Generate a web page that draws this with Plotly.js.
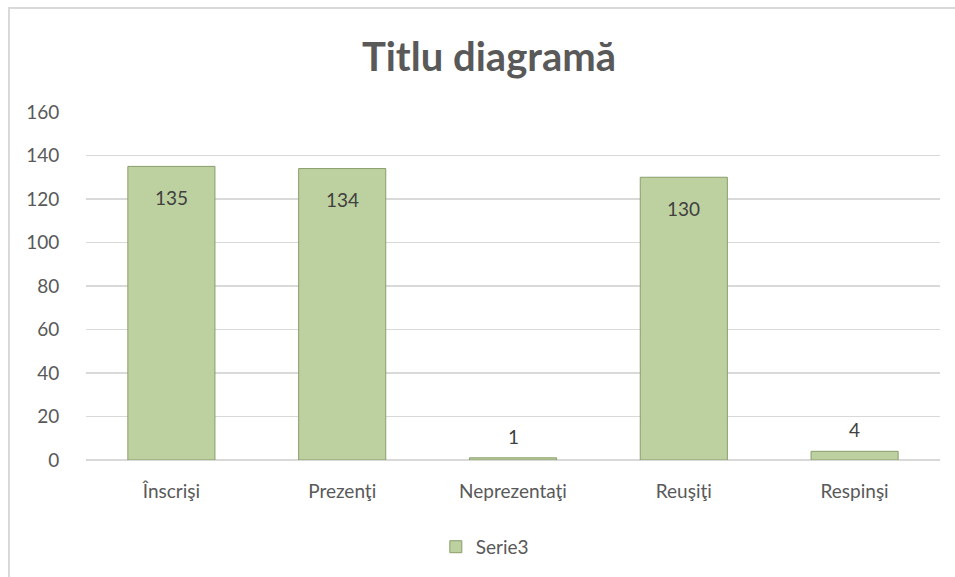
<!DOCTYPE html>
<html>
<head>
<meta charset="utf-8">
<script src="https://cdn.plot.ly/plotly-3.0.1.min.js"></script>
<style>
html,body{margin:0;padding:0;background:#fff;overflow:hidden;}
#frame{position:absolute;left:8px;top:7px;width:980px;height:600px;border:2px solid #d9d9d9;box-sizing:border-box;}
#chart{position:absolute;left:0;top:0;width:955px;height:577px;}
</style>
</head>
<body>
<div id="frame"></div>
<div id="chart"></div>
<script>
const categories = ["Înscrişi", "Prezenţi", "Neprezentaţi", "Reuşiţi", "Respinşi"];
const values = [135, 134, 1, 130, 4];
const seriesName = "Serie3";
const yTicks = [0, 20, 40, 60, 80, 100, 120, 140, 160];

const FONT = "Lato, 'Open Sans', sans-serif";
const TXT = "#595959";

const trace = {
  type: "bar",
  x: categories,
  y: values,
  name: seriesName,
  marker: {color: "#bdd09f", line: {color: "#8a9e6c", width: 1}},
  hoverinfo: "x+y",
  showlegend: true
};

const maxV = Math.max(...values);
const annotations = categories.map((c, i) => {
  const inside = values[i] > maxV * 0.1;
  return {
    x: c, y: values[i], xref: "x", yref: "y",
    text: String(values[i]), showarrow: false,
    yanchor: inside ? "middle" : "bottom",
    yshift: inside ? -31 : 8,
    font: {family: FONT, size: 19, color: "#404040"}
  };
});

const layout = {
  width: 955, height: 577,
  margin: {l: 86, r: 15, t: 112, b: 116},
  paper_bgcolor: "rgba(0,0,0,0)",
  plot_bgcolor: "rgba(0,0,0,0)",
  title: {text: "<b>Titlu diagramă</b>", x: 0.512, xanchor: "center", yref: "container", y: 1 - 57/577, yanchor: "middle",
          font: {family: FONT, size: 40, color: TXT}},
  bargap: 0.49,
  xaxis: {type: "category", tickfont: {family: FONT, size: 19, color: TXT}, showgrid: false,
          showline: false, ticks: "outside", ticklen: 14, tickcolor: "rgba(0,0,0,0)", zeroline: false},
  yaxis: {range: [0, 160], tickvals: yTicks, ticktext: yTicks.map(String), showgrid: true, gridcolor: "#d9d9d9", gridwidth: 1.5,
          zeroline: true, zerolinecolor: "#d9d9d9", zerolinewidth: 1.5, showline: false,
          ticks: "outside", ticklen: 22, tickcolor: "rgba(0,0,0,0)",
          tickfont: {family: FONT, size: 19, color: TXT}, fixedrange: true},
  legend: {orientation: "h", x: 0.467, xanchor: "center", y: -0.246, yanchor: "middle",
           font: {family: FONT, size: 19, color: TXT}, itemwidth: 30},
  annotations: annotations
};

Plotly.newPlot("chart", [trace], layout, {displayModeBar: false, staticPlot: true});
</script>
</body>
</html>
